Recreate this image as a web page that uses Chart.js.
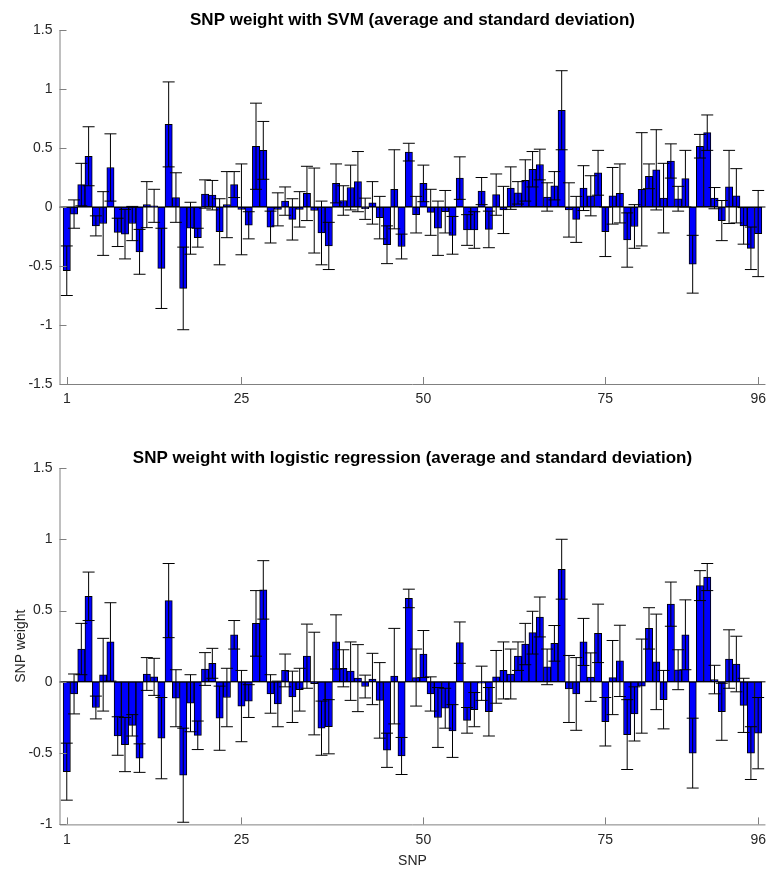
<!DOCTYPE html>
<html>
<head>
<meta charset="utf-8">
<script src="https://cdn.jsdelivr.net/npm/chart.js@4"></script>
<style>
  html, body { margin: 0; padding: 0; background: #fff; }
  .panel { position: absolute; left: 0; }
  #top-panel { top: 0; }
  #bottom-panel { top: 420px; }
</style>
</head>
<body>
<div class="panel" id="top-panel"><canvas id="svm-chart" width="773" height="420"></canvas></div>
<div class="panel" id="bottom-panel"><canvas id="lr-chart" width="773" height="449"></canvas></div>
<script>
// SNP index 1..96
const snpIds = Array.from({ length: 96 }, (_, i) => i + 1);
const xTicks = [1, 25, 50, 75, 96];

// SVM weights: mean and standard deviation per SNP
const svmMean = [
  -0.54, -0.06, 0.19, 0.43, -0.16, -0.14, 0.335, -0.215, -0.23, -0.14,
  -0.38, 0.02, 0.01, -0.52, 0.70, 0.08, -0.69, -0.18, -0.26, 0.11,
  0.10, -0.21, 0.02, 0.19, -0.02, -0.155, 0.515, 0.48, -0.17, -0.02,
  0.05, -0.105, -0.02, 0.115, -0.03, -0.22, -0.33, 0.20, 0.055, 0.165,
  0.215, -0.015, 0.035, -0.09, -0.32, 0.15, -0.335, 0.465, -0.065, 0.20,
  -0.045, -0.18, -0.04, -0.24, 0.245, -0.195, -0.195, 0.135, -0.19, 0.105,
  -0.025, 0.16, 0.12, 0.225, 0.32, 0.36, 0.085, 0.18, 0.82, -0.025,
  -0.105, 0.16, 0.095, 0.29, -0.21, 0.095, 0.115, -0.28, -0.165, 0.15,
  0.26, 0.315, 0.075, 0.39, 0.07, 0.24, -0.485, 0.515, 0.63, 0.075,
  -0.115, 0.17, 0.095, -0.16, -0.35, -0.225
];
const svmStd = [
  0.21, 0.12, 0.18, 0.25, 0.085, 0.27, 0.285, 0.12, 0.21, 0.145,
  0.19, 0.195, 0.14, 0.34, 0.36, 0.21, 0.35, 0.22, 0.08, 0.12,
  0.125, 0.28, 0.28, 0.11, 0.385, 0.115, 0.365, 0.245, 0.135, 0.14,
  0.12, 0.175, 0.15, 0.23, 0.36, 0.27, 0.20, 0.165, 0.125, 0.19,
  0.255, 0.09, 0.18, 0.18, 0.16, 0.335, 0.105, 0.075, 0.155, 0.155,
  0.195, 0.23, 0.18, 0.16, 0.18, 0.13, 0.155, 0.115, 0.155, 0.175,
  0.20, 0.18, 0.095, 0.175, 0.15, 0.13, 0.12, 0.12, 0.335, 0.23,
  0.195, 0.19, 0.17, 0.19, 0.21, 0.24, 0.25, 0.23, 0.185, 0.48,
  0.105, 0.34, 0.295, 0.145, 0.105, 0.24, 0.245, 0.10, 0.15, 0.09,
  0.17, 0.31, 0.23, 0.155, 0.18, 0.365
];

// logistic regression weights: mean and standard deviation per SNP
const lrMean = [
  -0.63, -0.085, 0.23, 0.60, -0.18, 0.05, 0.28, -0.38, -0.44, -0.305,
  -0.535, 0.055, 0.035, -0.395, 0.57, -0.115, -0.655, -0.15, -0.375, 0.09,
  0.13, -0.255, -0.11, 0.33, -0.17, -0.135, 0.41, 0.645, -0.085, -0.155,
  0.08, -0.105, -0.055, 0.18, -0.012, -0.325, -0.315, 0.28, 0.095, 0.075,
  0.026, -0.033, 0.02, -0.13, -0.48, 0.04, -0.52, 0.585, 0.03, 0.195,
  -0.085, -0.25, -0.185, -0.345, 0.275, -0.27, -0.195, -0.01, -0.21, 0.035,
  0.08, 0.055, 0.18, 0.265, 0.345, 0.455, 0.105, 0.27, 0.79, -0.05,
  -0.085, 0.28, 0.033, 0.34, -0.28, 0.03, 0.147, -0.37, -0.225, -0.03,
  0.375, 0.14, -0.125, 0.545, 0.085, 0.33, -0.50, 0.675, 0.735, 0.016,
  -0.21, 0.16, 0.125, -0.165, -0.50, -0.36
];
const lrStd = [
  0.20, 0.14, 0.18, 0.17, 0.08, 0.255, 0.275, 0.135, 0.19, 0.075,
  0.10, 0.115, 0.13, 0.285, 0.26, 0.20, 0.33, 0.20, 0.10, 0.115,
  0.105, 0.225, 0.205, 0.10, 0.25, 0.115, 0.23, 0.205, 0.135, 0.16,
  0.115, 0.18, 0.15, 0.225, 0.36, 0.19, 0.19, 0.19, 0.13, 0.205,
  0.235, 0.08, 0.18, 0.265, 0.12, 0.335, 0.13, 0.065, 0.20, 0.165,
  0.12, 0.21, 0.14, 0.185, 0.145, 0.09, 0.12, 0.12, 0.17, 0.185,
  0.20, 0.175, 0.10, 0.145, 0.15, 0.14, 0.125, 0.125, 0.21, 0.235,
  0.255, 0.165, 0.17, 0.205, 0.17, 0.26, 0.25, 0.245, 0.19, 0.33,
  0.145, 0.335, 0.205, 0.155, 0.14, 0.245, 0.245, 0.105, 0.095, 0.10,
  0.20, 0.205, 0.195, 0.19, 0.185, 0.25
];

const FONT = 'Liberation Sans, Arial, Helvetica, sans-serif';
const TEXT_COLOR = '#262626';
const AXIS_COLOR = '#808080';

// draws baseline, error bars, matlab-like axes with inward ticks and titles
const matlabPlugin = {
  id: 'matlab',
  afterDatasetsDraw(chart, args, opts) {
    const { ctx, chartArea: area, scales: { x, y } } = chart;
    const points = chart.data.datasets[0].data;
    ctx.save();
    ctx.lineWidth = 1;

    // zero baseline
    const y0 = y.getPixelForValue(0);
    ctx.strokeStyle = '#000';
    ctx.beginPath();
    ctx.moveTo(area.left, y0);
    ctx.lineTo(area.right, y0);
    ctx.stroke();

    // error bars (mean +/- std)
    points.forEach((p, i) => {
      const px = x.getPixelForValue(p.x);
      const hi = y.getPixelForValue(p.y + opts.std[i]);
      const lo = y.getPixelForValue(p.y - opts.std[i]);
      ctx.beginPath();
      ctx.moveTo(px, hi); ctx.lineTo(px, lo);
      ctx.moveTo(px - 6, hi); ctx.lineTo(px + 6, hi);
      ctx.moveTo(px - 6, lo); ctx.lineTo(px + 6, lo);
      ctx.stroke();
    });

    // axes lines
    ctx.strokeStyle = AXIS_COLOR;
    ctx.beginPath();
    ctx.moveTo(area.left + 0.5, area.top);
    ctx.lineTo(area.left + 0.5, area.bottom + 0.5);
    ctx.lineTo(area.right, area.bottom + 0.5);
    // inward ticks
    y.ticks.forEach(t => {
      const py = Math.round(y.getPixelForValue(t.value)) + 0.5;
      ctx.moveTo(area.left, py);
      ctx.lineTo(area.left + 7, py);
    });
    x.ticks.forEach(t => {
      const px = Math.round(x.getPixelForValue(t.value)) + 0.5;
      ctx.moveTo(px, area.bottom);
      ctx.lineTo(px, area.bottom - 7);
    });
    ctx.stroke();

    // titles
    const cx = (area.left + area.right) / 2;
    ctx.fillStyle = '#000';
    ctx.textAlign = 'center';
    ctx.textBaseline = 'alphabetic';
    ctx.font = 'bold 17px ' + FONT;
    ctx.fillText(opts.title, cx, area.top - 5);

    ctx.fillStyle = TEXT_COLOR;
    ctx.font = '14px ' + FONT;
    if (opts.xLabel) {
      ctx.fillText(opts.xLabel, cx, area.bottom + 40.5);
    }
    if (opts.yLabel) {
      ctx.save();
      ctx.translate(21, (area.top + area.bottom) / 2);
      ctx.rotate(-Math.PI / 2);
      ctx.textBaseline = 'middle';
      ctx.fillText(opts.yLabel, 0, 0);
      ctx.restore();
    }
    ctx.restore();
  }
};

function makeChart(canvasId, means, stds, yMin, yMax, opts) {
  const ctx = document.getElementById(canvasId).getContext('2d');
  return new Chart(ctx, {
    type: 'bar',
    data: {
      datasets: [{
        data: means.map((v, i) => ({ x: snpIds[i], y: v })),
        backgroundColor: '#0000ff',
        borderColor: '#000',
        borderWidth: 1,
        borderSkipped: false,
        barPercentage: 1,
        categoryPercentage: 1
      }]
    },
    options: {
      responsive: false,
      animation: false,
      layout: { padding: { top: opts.padTop, right: 3, bottom: 0, left: 0 } },
      scales: {
        x: {
          type: 'linear',
          min: 0,
          max: 97,
          offset: false,
          grid: { display: false, drawTicks: false },
          border: { display: false },
          ticks: {
            padding: 7,
            autoSkip: false,
            maxRotation: 0,
            color: TEXT_COLOR,
            font: { family: FONT, size: 14 }
          },
          afterBuildTicks: scale => { scale.ticks = xTicks.map(v => ({ value: v })); },
          afterFit: scale => { scale.height = opts.xAxisHeight; }
        },
        y: {
          min: yMin,
          max: yMax,
          grid: { display: false, drawTicks: false },
          border: { display: false },
          ticks: {
            stepSize: 0.5,
            padding: 7,
            color: TEXT_COLOR,
            font: { family: FONT, size: 14 },
            callback: v => String(v)
          },
          afterFit: scale => { scale.width = 59.5; }
        }
      },
      plugins: {
        legend: { display: false },
        tooltip: { enabled: false },
        matlab: { std: stds, title: opts.title, xLabel: opts.xLabel, yLabel: opts.yLabel }
      }
    },
    plugins: [matlabPlugin]
  });
}

makeChart('svm-chart', svmMean, svmStd, -1.5, 1.5, {
  padTop: 30,
  xAxisHeight: 36,
  title: 'SNP weight with SVM (average and standard deviation)',
  xLabel: '',
  yLabel: ''
});

makeChart('lr-chart', lrMean, lrStd, -1, 1.5, {
  padTop: 48,
  xAxisHeight: 44.6,
  title: 'SNP weight with logistic regression (average and standard deviation)',
  xLabel: 'SNP',
  yLabel: 'SNP weight'
});
</script>
</body>
</html>
